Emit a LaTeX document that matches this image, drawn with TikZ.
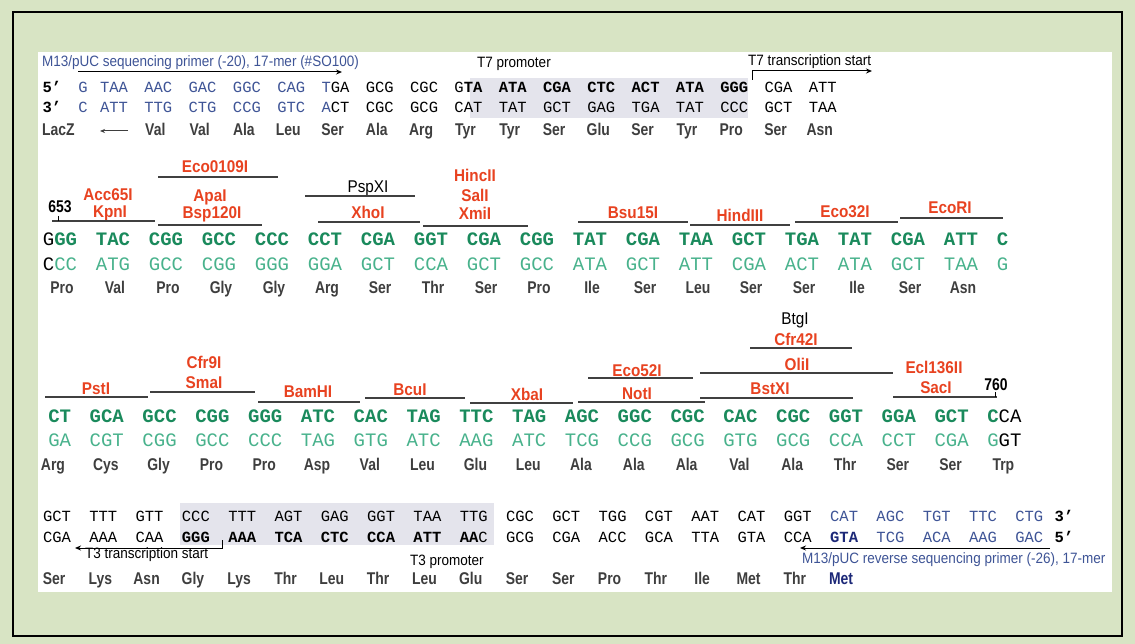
\documentclass[tikz,border=0pt]{standalone}
\usepackage{fontspec}
\setmainfont{Liberation Sans}
\newfontfamily\seqfont{Liberation Mono}
\newfontfamily\condfont[FakeStretch=0.82]{Liberation Sans}
\newfontfamily\labelfont[FakeStretch=0.9]{Liberation Sans}
\usetikzlibrary{arrows.meta, positioning}

\definecolor{panelgreen}{RGB}{216, 228, 196}
\definecolor{primerblue}{RGB}{62, 84, 150}
\definecolor{metblue}{RGB}{28, 40, 120}
\definecolor{sitered}{RGB}{232, 66, 32}
\definecolor{strandgreen}{RGB}{26, 138, 92}
\definecolor{compgreen}{RGB}{72, 178, 140}
\definecolor{aagray}{RGB}{62, 62, 62}
\definecolor{promgray}{RGB}{228, 228, 236}

\begin{document}
\begin{tikzpicture}[x=1pt, y=-1pt,
  every node/.style={inner sep=0pt, anchor=base},
  seq/.style={font=\seqfont\fontsize{15.5}{16}\selectfont},
  seqbold/.style={font=\seqfont\bfseries\fontsize{19}{20}\selectfont, text=strandgreen},
  seqcomp/.style={font=\seqfont\fontsize{19}{20}\selectfont, text=compgreen},
  amino/.style={font=\condfont\bfseries\fontsize{17}{18}\selectfont, text=aagray},
  site/.style={font=\labelfont\bfseries\fontsize{17}{18}\selectfont, text=sitered},
  note/.style={font=\labelfont\fontsize{15}{16}\selectfont},
  posnum/.style={font=\condfont\bfseries\fontsize{17}{18}\selectfont},
  bar/.style={line width=1.3pt, black!75},
  pointer/.style={-{Stealth[length=6pt, width=5pt]}, line width=1pt},
  ]
  \useasboundingbox (0,0) rectangle (1135,644);
  % frame and panel
  \fill[panelgreen] (0,0) rectangle (1135,644);
  \draw[line width=2pt] (13,12) rectangle (1122,636);
  \fill[white] (38,52) rectangle (1112,592);

  % ---- block 1: primer and T7 promoter
  \fill[promgray] (470,78) rectangle (748,118);
  \node[note, text=primerblue, anchor=base west] (fwdlabel) at (42,67) {M13/pUC sequencing primer (-20), 17-mer (\#SO100)};
  \coordinate (fwdtail) at (78,72);
  \coordinate (fwdtip) at (342,72);
  \draw[pointer] (fwdtail) -- (fwdtip);
  \node[note] (t7prom) at (514,68) {T7 promoter};
  \node[note, anchor=base west] (t7start) at (748,66) {T7 transcription start};
  \coordinate (t7foot) at (752,80);
  \coordinate (t7tip) at (872,71);
  \draw[pointer] (t7foot) |- (t7tip);

  \node[seq, font=\seqfont\bfseries\fontsize{15.5}{16}\selectfont] (top5) at (52,93) {5’};
  \node[seq, text=primerblue] (t1g) at (83,93) {G};
  \foreach \t [count=\i from 0] in {\textcolor{primerblue}{TAA}, \textcolor{primerblue}{AAC},
      \textcolor{primerblue}{GAC}, \textcolor{primerblue}{GGC}, \textcolor{primerblue}{CAG},
      \textcolor{primerblue}{T}GA, GCG, CGC, G\textbf{TA}, \textbf{ATA}, \textbf{CGA},
      \textbf{CTC}, \textbf{ACT}, \textbf{ATA}, \textbf{GGG}, CGA, ATT}
    \node[seq] (t1-\i) at ({114+44.3*\i},93) {\t};

  \node[seq, font=\seqfont\bfseries\fontsize{15.5}{16}\selectfont] (bot3) at (52,113) {3’};
  \node[seq, text=primerblue] (b1c) at (83,113) {C};
  \foreach \t [count=\i from 0] in {\textcolor{primerblue}{ATT}, \textcolor{primerblue}{TTG},
      \textcolor{primerblue}{CTG}, \textcolor{primerblue}{CCG}, \textcolor{primerblue}{GTC},
      \textcolor{primerblue}{A}CT, CGC, GCG, CAT, TAT, GCT, GAG, TGA, TAT, CCC, GCT, TAA}
    \node[seq] (b1-\i) at ({114+44.3*\i},113) {\t};

  % reading frame
  \node[amino, anchor=base west] (lacz) at (42,136) {LacZ};
  \coordinate (lacztail) at (128,131);
  \coordinate (laczhead) at (100,131);
  \draw[-{Stealth[length=5pt, width=4pt]}, aagray, line width=1pt] (lacztail) -- (laczhead);
  \foreach \t [count=\i from 1] in {Val, Val, Ala, Leu, Ser, Ala, Arg, Tyr, Tyr, Ser, Glu,
      Ser, Tyr, Pro, Ser, Asn}
    \node[amino] (aa1-\i) at ({111+44.3*\i},136) {\t};

  % ---- block 2: MCS, first half
  \node[site] (eco0109) at (215,173) {Eco0109I};
  \draw[bar] (158,177) -- (278,177);
  \node[site] (acc65) at (108,201) {Acc65I};
  \node[site] (kpn) at (110,218) {KpnI};
  \draw[bar] (52,221) -- (155,221);
  \node[posnum] (pos653) at (60,213) {653};
  \draw[line width=1pt] (58,216) -- (58,221);
  \node[site] (apa) at (210,202) {ApaI};
  \node[site] (bsp120) at (212,219) {Bsp120I};
  \draw[bar] (158,225) -- (262,225);
  \node[note, font=\labelfont\fontsize{17}{18}\selectfont] (pspx) at (368,193) {PspXI};
  \draw[bar] (305,196) -- (415,196);
  \node[site] (xho) at (368,219) {XhoI};
  \draw[bar] (318,222) -- (420,222);
  \node[site] (hinc) at (475,182) {HincII};
  \node[site] (sal) at (475,202) {SalI};
  \node[site] (xmi) at (475,220) {XmiI};
  \draw[bar] (423,226) -- (528,226);
  \node[site] (bsu15) at (633,219) {Bsu15I};
  \draw[bar] (578,222) -- (688,222);
  \node[site] (hind) at (740,222) {HindIII};
  \draw[bar] (690,225) -- (790,225);
  \node[site] (eco32) at (845,218) {Eco32I};
  \draw[bar] (795,222) -- (898,222);
  \node[site] (ecori) at (950,214) {EcoRI};
  \draw[bar] (900,218) -- (1003,218);

  \foreach \t [count=\i from 0] in {\textcolor{black}{\textmd{G}}GG, TAC, CGG, GCC, CCC, CCT,
      CGA, GGT, CGA, CGG, TAT, CGA, TAA, GCT, TGA, TAT, CGA, ATT, C\phantom{CC}}
    \node[seqbold] (t2-\i) at ({60+53*\i},246) {\t};
  \foreach \t [count=\i from 0] in {\textcolor{black}{C}CC, ATG, GCC, CGG, GGG, GGA, GCT, CCA,
      GCT, GCC, ATA, GCT, ATT, CGA, ACT, ATA, GCT, TAA, G\phantom{GG}}
    \node[seqcomp] (b2-\i) at ({60+53*\i},271) {\t};
  \foreach \t [count=\i from 0] in {Pro, Val, Pro, Gly, Gly, Arg, Ser, Thr, Ser, Pro, Ile,
      Ser, Leu, Ser, Ser, Ile, Ser, Asn}
    \node[amino] (aa2-\i) at ({62+53*\i},294) {\t};

  % ---- block 3: MCS, second half
  \node[note, font=\labelfont\fontsize{17}{18}\selectfont] (btg) at (795,324) {BtgI};
  \node[site] (cfr42) at (796,345) {Cfr42I};
  \draw[bar] (750,348) -- (852,348);
  \node[site] (oli) at (797,370) {OliI};
  \draw[bar] (700,373) -- (893,373);
  \node[site] (bstx) at (770,394) {BstXI};
  \draw[bar] (700,398) -- (853,398);
  \node[site] (eco52) at (637,376) {Eco52I};
  \draw[bar] (588,378) -- (693,378);
  \node[site] (not) at (637,399) {NotI};
  \draw[bar] (578,402) -- (705,402);
  \node[site] (xba) at (527,400) {XbaI};
  \draw[bar] (470,403) -- (573,403);
  \node[site] (bcu) at (410,395) {BcuI};
  \draw[bar] (365,398) -- (465,398);
  \node[site] (bamh) at (308,397) {BamHI};
  \draw[bar] (258,402) -- (360,402);
  \node[site] (cfr9) at (204,368) {Cfr9I};
  \node[site] (sma) at (204,388) {SmaI};
  \draw[bar] (150,392) -- (255,392);
  \node[site] (pst) at (96,394) {PstI};
  \draw[bar] (45,397) -- (148,397);
  \node[site] (ecl136) at (934,373) {Ecl136II};
  \node[site] (sac) at (936,393) {SacI};
  \draw[bar] (893,397) -- (997,397);
  \node[posnum] (pos760) at (996,390) {760};
  \draw[line width=1pt] (995,392) -- (995,397);

  \foreach \t [count=\i from 0] in {\phantom{C}CT, GCA, GCC, CGG, GGG, ATC, CAC, TAG, TTC, TAG,
      AGC, GGC, CGC, CAC, CGC, GGT, GGA, GCT, C\textcolor{black}{\textmd{CA}}}
    \node[seqbold] (t3-\i) at ({54+52.8*\i},422) {\t};
  \foreach \t [count=\i from 0] in {\phantom{G}GA, CGT, CGG, GCC, CCC, TAG, GTG, ATC, AAG, ATC,
      TCG, CCG, GCG, GTG, GCG, CCA, CCT, CGA, G\textcolor{black}{GT}}
    \node[seqcomp] (b3-\i) at ({54+52.8*\i},446) {\t};
  \foreach \t [count=\i from 0] in {Arg, Cys, Gly, Pro, Pro, Asp, Val, Leu, Glu, Leu, Ala, Ala,
      Ala, Val, Ala, Thr, Ser, Ser, Trp}
    \node[amino] (aa3-\i) at ({53+52.8*\i},470) {\t};

  % ---- block 4: T3 promoter and reverse primer
  \fill[promgray] (180,503) rectangle (494,545);
  \foreach \t [count=\i from 0] in {GCT, TTT, GTT, CCC, TTT, AGT, GAG, GGT, TAA, TTG, CGC, GCT,
      TGG, CGT, AAT, CAT, GGT, \textcolor{primerblue}{CAT}, \textcolor{primerblue}{AGC},
      \textcolor{primerblue}{TGT}, \textcolor{primerblue}{TTC}, \textcolor{primerblue}{CTG}}
    \node[seq] (t4-\i) at ({57+46.3*\i},521) {\t};
  \node[seq, font=\seqfont\bfseries\fontsize{15.5}{16}\selectfont] (top3) at (1064,521) {3’};
  \foreach \t [count=\i from 0] in {CGA, AAA, CAA, \textbf{GGG}, \textbf{AAA}, \textbf{TCA},
      \textbf{CTC}, \textbf{CCA}, \textbf{ATT}, \textbf{AA}C, GCG, CGA, ACC, GCA, TTA, GTA, CCA,
      \textcolor{metblue}{\textbf{GTA}}, \textcolor{primerblue}{TCG}, \textcolor{primerblue}{ACA},
      \textcolor{primerblue}{AAG}, \textcolor{primerblue}{GAC}}
    \node[seq] (b4-\i) at ({57+46.3*\i},542) {\t};
  \node[seq, font=\seqfont\bfseries\fontsize{15.5}{16}\selectfont] (bot5) at (1064,542) {5’};

  \coordinate (t3foot) at (222,540);
  \coordinate (t3tip) at (75,548);
  \draw[pointer] (t3foot) |- (t3tip);
  \node[note, anchor=base west] (t3start) at (85,558) {T3 transcription start};
  \node[note, anchor=base west] (t3prom) at (410,565) {T3 promoter};
  \coordinate (revtail) at (1050,548);
  \coordinate (revtip) at (800,548);
  \draw[pointer] (revtail) -- (revtip);
  \node[note, text=primerblue, anchor=base west] (revlabel) at (802,563) {M13/pUC reverse sequencing primer (-26), 17-mer};

  \foreach \t [count=\i from 0] in {Ser, Lys, Asn, Gly, Lys, Thr, Leu, Thr, Leu, Glu, Ser, Ser,
      Pro, Thr, Ile, Met, Thr, \textcolor{metblue}{Met}}
    \node[amino] (aa4-\i) at ({54+46.3*\i},584) {\t};
\end{tikzpicture}
\end{document}
